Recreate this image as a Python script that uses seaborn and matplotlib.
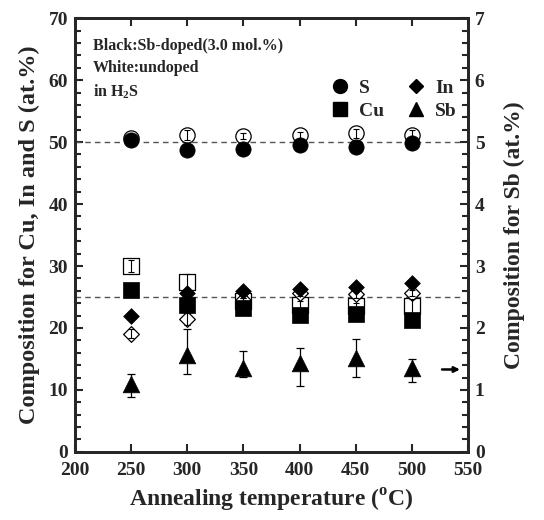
import numpy as np
import seaborn as sns
import matplotlib.pyplot as plt
from matplotlib.ticker import MultipleLocator
from matplotlib.lines import Line2D

sns.set_style("ticks")
plt.rcParams['font.family'] = ['Liberation Serif', 'DejaVu Serif']
plt.rcParams['font.weight'] = 'bold'
plt.rcParams['mathtext.fontset'] = 'custom'
plt.rcParams['mathtext.rm'] = 'Liberation Serif:bold'
plt.rcParams['mathtext.bf'] = 'Liberation Serif:bold'

# Annealing temperatures
temp = [250, 300, 350, 400, 450, 500]

# Sb-doped (black)
s_dop = [50.3, 48.7, 48.9, 49.6, 49.2, 49.8]
cu_dop = [26.2, 23.7, 23.2, 22.1, 22.3, 21.3]
in_dop = [22.0, 25.6, 25.9, 26.3, 26.6, 27.3]
sb_dop = [1.09, 1.56, 1.36, 1.44, 1.51, 1.35]
sb_hi = [1.25, 1.98, 1.63, 1.67, 1.82, 1.50]
sb_lo = [0.88, 1.26, 1.21, 1.06, 1.21, 1.13]

# undoped (white)
s_und = [50.7, 51.1, 51.0, 51.1, 51.4, 51.2]
s_und_err = [0.3, 0.8, 0.5, 0.6, 0.7, 0.8]
cu_und = [30.0, 27.5, 24.3, 23.7, 23.5, 23.5]
cu_und_err = [0.9, 1.2, 0.5, 0.7, 0.6, 1.2]
in_und = [19.1, 21.4, 24.5, 25.6, 25.5, 25.6]
in_und_err = [0.7, 1.0, 0.4, 0.5, 0.6, 0.5]

fig = plt.figure(figsize=(5.44, 5.20), dpi=100)
ax = fig.add_axes([0.138, 0.131, 0.722, 0.834])
ax2 = ax.twinx()

# reference lines
ax.plot([200, 545], [50, 50], ls=(0, (4, 3)), color='#555555', lw=1, zorder=1)
ax.plot([200, 545], [25, 25], ls=(0, (4, 3)), color='#555555', lw=1, zorder=1)

# undoped, open markers with small error bars drawn on top
for vals, err, mk, ms in [(s_und, s_und_err, 'o', 11),
                          (cu_und, cu_und_err, 's', 11),
                          (in_und, in_und_err, 'D', 8)]:
    sns.scatterplot(x=temp, y=vals, marker=mk, s=ms ** 2, facecolor='white',
                    edgecolor='black', linewidth=0.9, ax=ax, zorder=2)
    ax.errorbar(temp, vals, yerr=err, fmt='none', ecolor='black', elinewidth=0.8,
                capsize=2.5, capthick=0.8, zorder=3)

# doped, filled markers
for vals, mk, ms in [(s_dop, 'o', 11), (cu_dop, 's', 11), (in_dop, 'D', 8)]:
    sns.scatterplot(x=temp, y=vals, marker=mk, s=ms ** 2, color='black',
                    edgecolor='black', linewidth=0.5, ax=ax, zorder=4)

# Sb on right axis
sb_err = [np.subtract(sb_dop, sb_lo), np.subtract(sb_hi, sb_dop)]
ax2.errorbar(temp, sb_dop, yerr=sb_err, fmt='none', ecolor='black', elinewidth=0.9,
             capsize=3, capthick=0.9, zorder=2)
sns.scatterplot(x=temp, y=sb_dop, marker='^', s=12 ** 2, color='black',
                edgecolor='black', linewidth=0.5, ax=ax2, zorder=4)
ax2.annotate('', xy=(543, 1.33), xytext=(527, 1.33),
             arrowprops=dict(arrowstyle='-|>', color='black', lw=1.8, mutation_scale=8,
                             shrinkA=0, shrinkB=0))

ax.set_xlim(200, 550)
ax.set_ylim(0, 70)
ax2.set_ylim(0, 7)
ax.xaxis.set_major_locator(MultipleLocator(50))
ax.yaxis.set_major_locator(MultipleLocator(10))
ax.yaxis.set_minor_locator(MultipleLocator(2))
ax2.yaxis.set_major_locator(MultipleLocator(1))
ax2.yaxis.set_minor_locator(MultipleLocator(0.2))

ax.tick_params(axis='x', direction='in', top=True, length=6, width=1.5, labelsize=14, pad=7)
ax.tick_params(axis='y', which='major', direction='in', length=6, width=1.5, labelsize=14, pad=5)
ax.tick_params(axis='y', which='minor', direction='in', length=4, width=1.5)
ax2.tick_params(axis='y', which='major', direction='in', length=6, width=1.5, labelsize=14, pad=5)
ax2.tick_params(axis='y', which='minor', direction='in', length=4, width=1.5)
for a in (ax, ax2):
    for sp in a.spines.values():
        sp.set_linewidth(2)
        sp.set_visible(True)
    for lab in a.get_xticklabels() + a.get_yticklabels():
        lab.set_fontweight('bold')

ax.set_xlabel('Annealing temperature ($^{\\mathrm{o}}$C)', fontsize=17, fontweight='bold', labelpad=6)
ax.set_ylabel('Composition for Cu, In and S (at.%)', fontsize=17.5, fontweight='bold', labelpad=6)
ax2.set_ylabel('Composition for Sb (at.%)', fontsize=17, fontweight='bold', labelpad=14)

ax.text(0.045, 0.955, 'Black:Sb-doped(3.0 mol.%)\nWhite:undoped\nin H$_2$S',
        transform=ax.transAxes, ha='left', va='top', fontsize=11.5, fontweight='bold',
        linespacing=1.5)

handles = [
    Line2D([], [], marker='o', ls='none', color='black', markersize=10),
    Line2D([], [], marker='s', ls='none', color='black', markersize=10),
    Line2D([], [], marker='D', ls='none', color='black', markersize=7),
    Line2D([], [], marker='^', ls='none', color='black', markersize=10),
]
ax.legend(handles, ['S', 'Cu', 'In', 'Sb'], ncol=2, frameon=False, loc='upper left',
          bbox_to_anchor=(0.6, 0.9), prop={'size': 14, 'weight': 'bold'},
          handletextpad=0.4, columnspacing=1.0, labelspacing=0.3, handlelength=1.2)

plt.savefig('out.png', dpi=100)
